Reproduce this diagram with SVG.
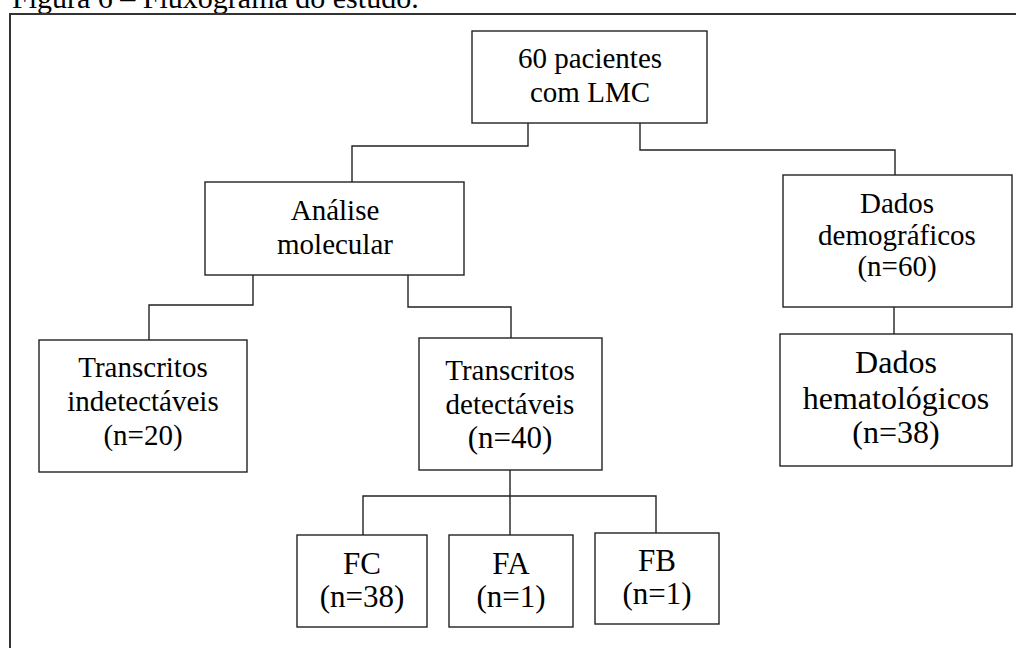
<svg xmlns="http://www.w3.org/2000/svg" width="1016" height="648" viewBox="0 0 1016 648">
<style>
.box{fill:#fff;stroke:#222;stroke-width:1.4}
.t{fill:#000;text-anchor:middle}
.c{fill:none;stroke:#222;stroke-width:1.4}
.frame{fill:none;stroke:#333;stroke-width:2}
</style>
<rect width="1016" height="648" fill="#fff"/>
<g font-family="Liberation Serif, Times New Roman, serif">
<text x="12" y="8" font-size="30" fill="#000">Figura 6 – Fluxograma do estudo.</text>
<path class="frame" d="M10,648 V14 H1016"/>
<g id="connectors">
<path class="c" d="M528,123 V146 H352 V182"/>
<path class="c" d="M640,123 V150 H895 V175"/>
<path class="c" d="M894,307 V334"/>
<path class="c" d="M253,275 V305 H149 V340"/>
<path class="c" d="M408,275 V307 H511 V338"/>
<path class="c" d="M510,470 V535"/>
<path class="c" d="M363,535 V496 H656 V533"/>
</g>
<g id="n1"><rect class="box" x="472" y="31" width="235" height="92"/>
<text class="t" font-size="29" x="590" y="68">60 pacientes</text>
<text class="t" font-size="29" x="590" y="102">com LMC</text></g>
<g id="n2"><rect class="box" x="205" y="182" width="259" height="93"/>
<text class="t" font-size="29" x="335" y="220">Análise</text>
<text class="t" font-size="29" x="335" y="254">molecular</text></g>
<g id="n3"><rect class="box" x="783" y="175" width="229" height="132"/>
<text class="t" font-size="29" x="897" y="213">Dados</text>
<text class="t" font-size="29" x="897" y="245">demográficos</text>
<text class="t" font-size="29" x="897" y="276">(n=60)</text></g>
<g id="n4"><rect class="box" x="780" y="334" width="232" height="132"/>
<text class="t" font-size="32" x="896" y="373">Dados</text>
<text class="t" font-size="32" x="896" y="409">hematológicos</text>
<text class="t" font-size="32" x="896" y="443">(n=38)</text></g>
<g id="n5"><rect class="box" x="39" y="340" width="208" height="132"/>
<text class="t" font-size="29" x="143" y="377">Transcritos</text>
<text class="t" font-size="29" x="143" y="411">indetectáveis</text>
<text class="t" font-size="29" x="143" y="445">(n=20)</text></g>
<g id="n6"><rect class="box" x="419" y="338" width="183" height="132"/>
<text class="t" font-size="29" x="510" y="380">Transcritos</text>
<text class="t" font-size="29" x="510" y="414">detectáveis</text>
<text class="t" font-size="31" x="510" y="448">(n=40)</text></g>
<g id="n7"><rect class="box" x="297" y="535" width="130" height="92"/>
<text class="t" font-size="31" x="362" y="574">FC</text>
<text class="t" font-size="31" x="362" y="607">(n=38)</text></g>
<g id="n8"><rect class="box" x="449" y="535" width="124" height="92"/>
<text class="t" font-size="31" x="511" y="574">FA</text>
<text class="t" font-size="31" x="511" y="607">(n=1)</text></g>
<g id="n9"><rect class="box" x="595" y="533" width="124" height="91"/>
<text class="t" font-size="31" x="657" y="571">FB</text>
<text class="t" font-size="31" x="657" y="604">(n=1)</text></g>
</g>
</svg>
